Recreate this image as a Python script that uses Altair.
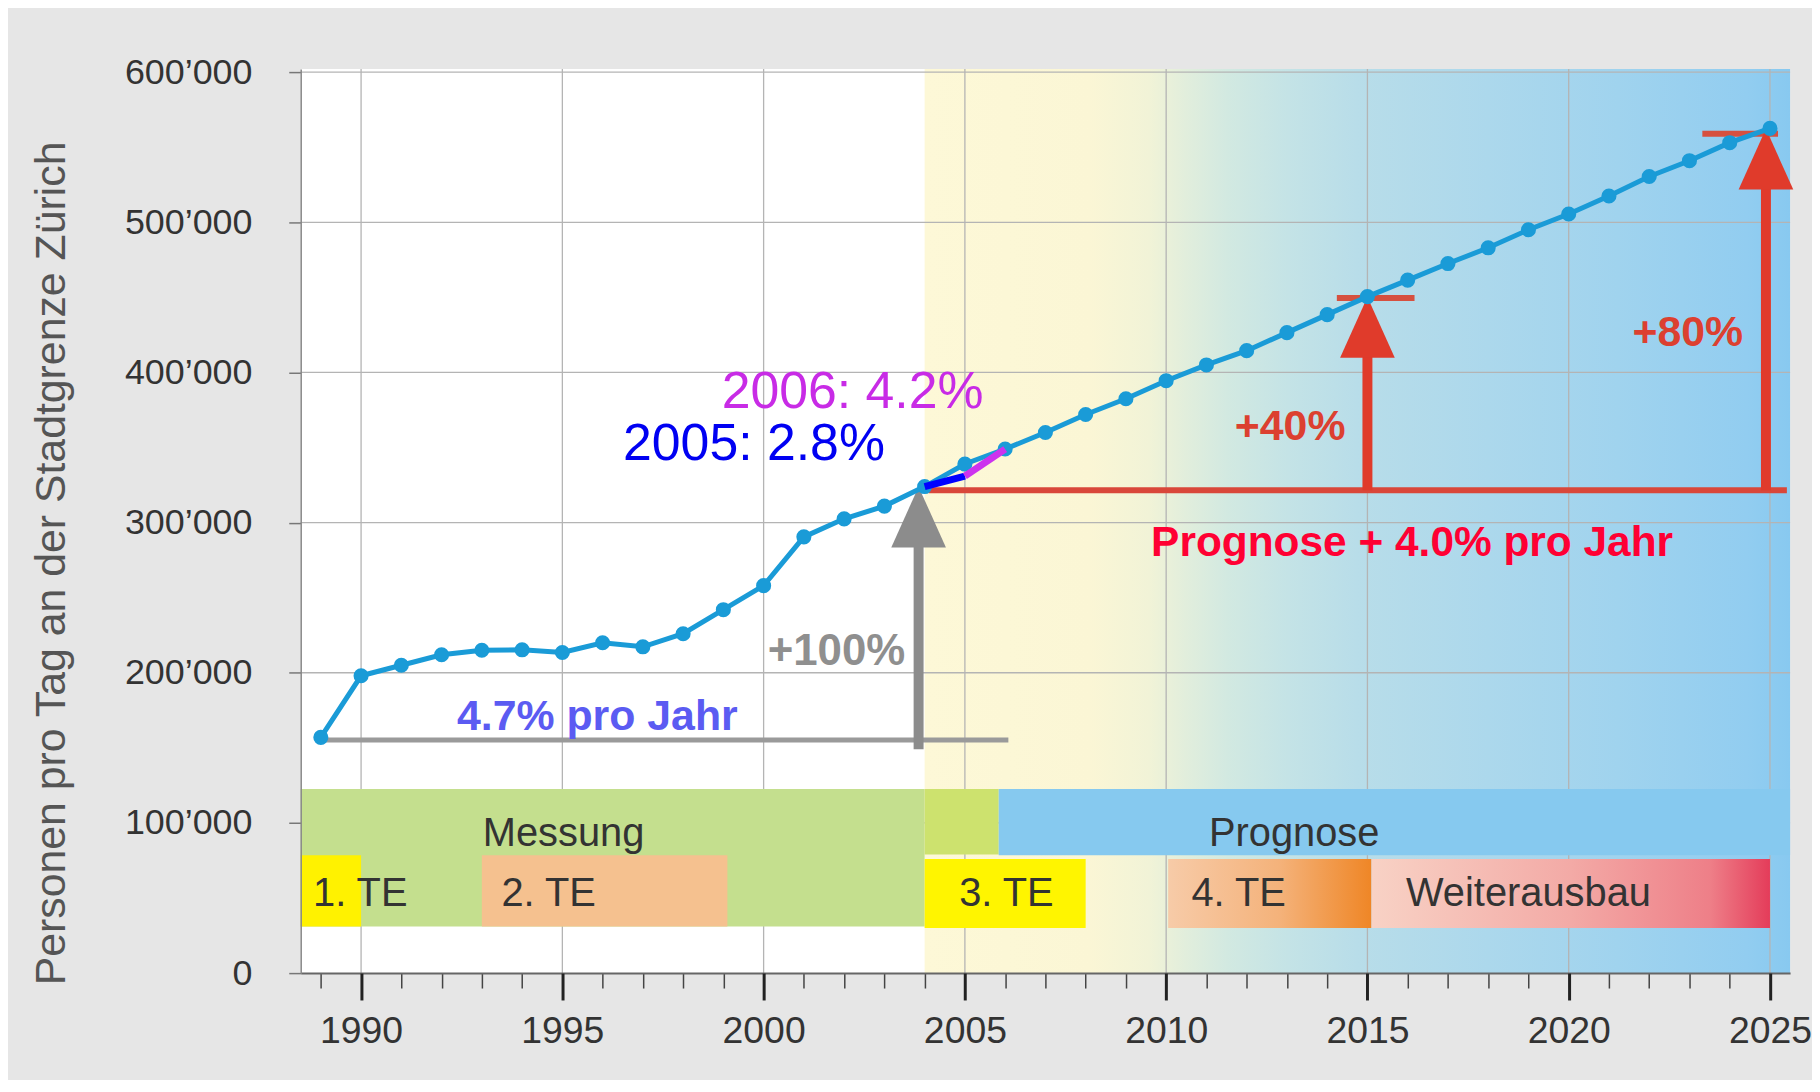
import altair as alt
import pandas as pd

# ---------------- data ----------------
years = list(range(1989, 2026))
persons = [157000, 198000, 205000, 212000, 215000, 215300, 213500, 220000, 217300, 226000,
           242000, 258000, 290500, 302500, 311000, 324000, 339000, 349000, 360000, 372000,
           382500, 394500, 405000, 414500, 426500, 438500, 450500, 461500, 472500, 483000,
           495000, 505500, 517500, 530500, 541000, 553000, 562500]

major_ticks = [1990, 1995, 2000, 2005, 2010, 2015, 2020, 2025]
minor_ticks = list(range(1989, 2026))
y_ticks = [0, 100000, 200000, 300000, 400000, 500000, 600000]
grid_y = [100000, 200000, 300000, 400000, 500000, 600000]

seg2005_x = [2004, 2005]
seg2005_y = [324000, 331000]
seg2006_x = [2005, 2006]
seg2006_y = [331000, 349000]

# bands (solid)
band_x1 = [1988.5, 2004.0, 2005.84, 1988.5, 1993.0, 2004.0]
band_x2 = [2004.0, 2005.84, 2025.5, 1990.0, 1999.1, 2008.0]
band_y1 = [31000, 79000, 78400, 31000, 31000, 30100]
band_y2 = [122600, 122600, 122600, 78400, 78400, 75900]
band_fill = ["#c4df8e", "#cde26e", "#86c9ef", "#fff200", "#f5c18f", "#fff500"]

band_text = ["Messung", "Prognose", "1. TE", "2. TE", "3. TE", "4. TE", "Weiterausbau"]
band_text_x = [1995.03, 2013.18, 1989.98, 1994.66, 2006.03, 2011.8, 2019.0]
band_text_y = [84900, 84900, 44400, 44400, 44400, 44400, 44400]

# horizontal annotation lines
hline_x1 = [1989.0, 2004.1, 2014.24, 2023.32]
hline_x2 = [2006.08, 2025.42, 2016.17, 2025.2]
hline_y = [155300, 321600, 449500, 558900]
hline_w = [5, 6, 6, 6]
hline_c = ["#9a9a9a", "#d9473a", "#d6503f", "#d6503f"]

# arrows
arrow_x = [2003.85, 2015.0, 2024.9]
arrow_y1 = [149000, 321600, 321600]
arrow_y2 = [292000, 416000, 528000]
arrow_head_y = [303700, 430000, 542000]
arrow_c = ["#8c8c8c", "#e03b2b", "#e03b2b"]

# annotations
reg_text = ["2005: 2.8%", "2006: 4.2%"]
reg_x = [1999.76, 2002.21]
reg_y = [341400, 376600]
reg_c = ["#0000f2", "#c82be6"]
reg_s = [52, 52]

bold_text = ["+100%", "4.7% pro Jahr", "Prognose + 4.0% pro Jahr", "+40%", "+80%"]
bold_x = [2001.81, 1995.87, 2016.11, 2013.08, 2022.96]
bold_y = [205500, 161800, 277800, 354700, 417700]
bold_c = ["#8f8f8f", "#5b5bf2", "#ff0033", "#dc4030", "#dc4030"]
bold_s = [44, 43, 42.6, 43, 43]

bg_stops = [(0.0, "#fdf8d7"), (0.19, "#fbf6d5"), (0.26, "#f1f3d7"), (0.30, "#e2eedc"),
            (0.35, "#d2e9e1"), (0.42, "#c4e3e6"), (0.5, "#b8dde9"), (0.65, "#acd8ec"),
            (0.8, "#a0d3ee"), (0.95, "#92cdf0"), (1.0, "#88c9f0")]

# ---------------- scales ----------------
xs = alt.Scale(domain=[1988.5, 2025.5], nice=False, zero=False)
ys = alt.Scale(domain=[0, 602000], nice=False, zero=True)

SANS = "Liberation Sans, Arial, sans-serif"


def X(f, **kw):
    return alt.X(f, type="quantitative", scale=xs, axis=kw.pop("axis", None), **kw)


def Y(f, **kw):
    return alt.Y(f, type="quantitative", scale=ys, axis=kw.pop("axis", None), **kw)


minor_axis = alt.Axis(values=minor_ticks, orient="bottom", tickSize=15, tickWidth=1.5,
                      tickColor="#444444", labels=False, grid=False, title=None,
                      domain=True, domainColor="#666666", domainWidth=2, zindex=1)
major_axis = alt.Axis(values=major_ticks, orient="bottom", tickSize=27, tickWidth=3,
                      tickColor="#222222", labels=True, labelFont=SANS, labelFontSize=37.5,
                      labelColor="#333333", labelPadding=13, grid=False, title=None,
                      domain=False, format="d", zindex=1)
y_axis = alt.Axis(values=y_ticks, orient="left", tickSize=12, tickWidth=1.5,
                  tickColor="#777777", domainColor="#888888", domainWidth=1.5,
                  labelFont=SANS, labelFontSize=36, labelColor="#333333", labelPadding=37,
                  labelExpr="datum.value == 0 ? '0' : format(datum.value/1000, 'd') + '\u2019000'",
                  grid=False, zindex=1,
                  title="Personen pro Tag an der Stadtgrenze Z\u00fcrich",
                  titleFont=SANS, titleFontSize=43, titleFontWeight="normal",
                  titleColor="#555555", titleAngle=270, titleAlign="center",
                  titleBaseline="middle", titleX=-250, titleY=496)

# ---------------- layers ----------------
bg = alt.Chart(pd.DataFrame({"x": [2004.0], "x2": [2025.5], "y": [0], "y2": [602000]})).mark_rect(
    color=alt.Gradient(gradient="linear", x1=0, x2=1, y1=0, y2=0,
                       stops=[alt.GradientStop(offset=o, color=c) for o, c in bg_stops])
).encode(x=X("x", axis=minor_axis), x2="x2", y=Y("y", axis=y_axis), y2="y2")

gv = alt.Chart(pd.DataFrame({"x": major_ticks})).mark_rule(color="#b4b4b4", strokeWidth=1.3).encode(
    x=X("x", axis=major_axis), y=alt.datum(0, scale=ys, type="quantitative", axis=None),
    y2=alt.datum(602000))
gh = alt.Chart(pd.DataFrame({"y": grid_y})).mark_rule(color="#b4b4b4", strokeWidth=1.3).encode(
    y=Y("y"), x=alt.datum(1988.5, scale=xs, type="quantitative", axis=None), x2=alt.datum(2025.5))

bands = alt.Chart(pd.DataFrame({"x": band_x1, "x2": band_x2, "y": band_y1, "y2": band_y2,
                                "c": band_fill})).mark_rect().encode(
    x=X("x"), x2="x2", y=Y("y"), y2="y2", color=alt.Color("c:N", scale=None))

te4 = alt.Chart(pd.DataFrame({"x": [2010.05], "x2": [2015.1], "y": [30100], "y2": [75900]})).mark_rect(
    color=alt.Gradient(gradient="linear", x1=0, x2=1, y1=0, y2=0,
                       stops=[alt.GradientStop(offset=0, color="#f7cba8"),
                              alt.GradientStop(offset=0.55, color="#f4b27a"),
                              alt.GradientStop(offset=1, color="#ef8626")])
).encode(x=X("x"), x2="x2", y=Y("y"), y2="y2")

weiter = alt.Chart(pd.DataFrame({"x": [2015.1], "x2": [2025.0], "y": [30100], "y2": [75900]})).mark_rect(
    color=alt.Gradient(gradient="linear", x1=0, x2=1, y1=0, y2=0,
                       stops=[alt.GradientStop(offset=0, color="#f8d2c5"),
                              alt.GradientStop(offset=0.5, color="#f3aaa6"),
                              alt.GradientStop(offset=0.85, color="#ee7f88"),
                              alt.GradientStop(offset=1, color="#e43c5a")])
).encode(x=X("x"), x2="x2", y=Y("y"), y2="y2")

band_lbl = alt.Chart(pd.DataFrame({"x": band_text_x, "y": band_text_y, "t": band_text})).mark_text(
    font=SANS, fontSize=40, color="#333333", align="center", baseline="alphabetic").encode(
    x=X("x"), y=Y("y"), text="t:N")

hlines = alt.Chart(pd.DataFrame({"x": hline_x1, "x2": hline_x2, "y": hline_y, "w": hline_w,
                                 "c": hline_c})).mark_rule(strokeCap="butt").encode(
    x=X("x"), x2="x2", y=Y("y"), strokeWidth=alt.StrokeWidth("w:Q", scale=None),
    color=alt.Color("c:N", scale=None))

shafts = alt.Chart(pd.DataFrame({"x": arrow_x, "y": arrow_y1, "y2": arrow_y2, "c": arrow_c})).mark_rule(
    strokeWidth=10, strokeCap="butt").encode(
    x=X("x"), y=Y("y"), y2="y2", color=alt.Color("c:N", scale=None))

heads = alt.Chart(pd.DataFrame({"x": arrow_x, "y": arrow_head_y, "c": arrow_c})).mark_point(
    shape="M0,-1L0.9,1L-0.9,1Z", filled=True, size=3721, opacity=1, strokeWidth=0).encode(
    x=X("x"), y=Y("y"), color=alt.Color("c:N", scale=None))

df_line = pd.DataFrame({"x": years, "y": persons})
line = alt.Chart(df_line).mark_line(color="#1a9bd7", strokeWidth=5).encode(x=X("x"), y=Y("y"))
pts = alt.Chart(df_line).mark_point(color="#1a9bd7", filled=True, opacity=1, size=230).encode(
    x=X("x"), y=Y("y"))

s05 = alt.Chart(pd.DataFrame({"x": seg2005_x, "y": seg2005_y})).mark_line(
    color="#0000ff", strokeWidth=7, strokeCap="butt").encode(x=X("x"), y=Y("y"))
s06 = alt.Chart(pd.DataFrame({"x": seg2006_x, "y": seg2006_y})).mark_line(
    color="#cc33ee", strokeWidth=7, strokeCap="butt").encode(x=X("x"), y=Y("y"))

reg = alt.Chart(pd.DataFrame({"x": reg_x, "y": reg_y, "t": reg_text, "c": reg_c, "s": reg_s})).mark_text(
    font=SANS, align="center", baseline="alphabetic").encode(
    x=X("x"), y=Y("y"), text="t:N", color=alt.Color("c:N", scale=None),
    size=alt.Size("s:Q", scale=None))

bold = alt.Chart(pd.DataFrame({"x": bold_x, "y": bold_y, "t": bold_text, "c": bold_c, "s": bold_s})).mark_text(
    font=SANS, fontWeight="bold", align="center", baseline="alphabetic").encode(
    x=X("x"), y=Y("y"), text="t:N", color=alt.Color("c:N", scale=None),
    size=alt.Size("s:Q", scale=None))

chart = alt.layer(
    bg, gv, gh, bands, te4, weiter, band_lbl, hlines, shafts, heads, line, pts, s05, s06, reg, bold
).resolve_axis(x="independent", y="independent").properties(
    width=1496, height=908,
    autosize=alt.AutoSizeParams(type="none"),
    padding={"left": 294, "top": 59, "right": 22, "bottom": 105},
    background="#e6e6e6",
).configure_view(fill="white", stroke=None)

chart.save("out.html", embed_options={"renderer": "svg", "actions": False})
